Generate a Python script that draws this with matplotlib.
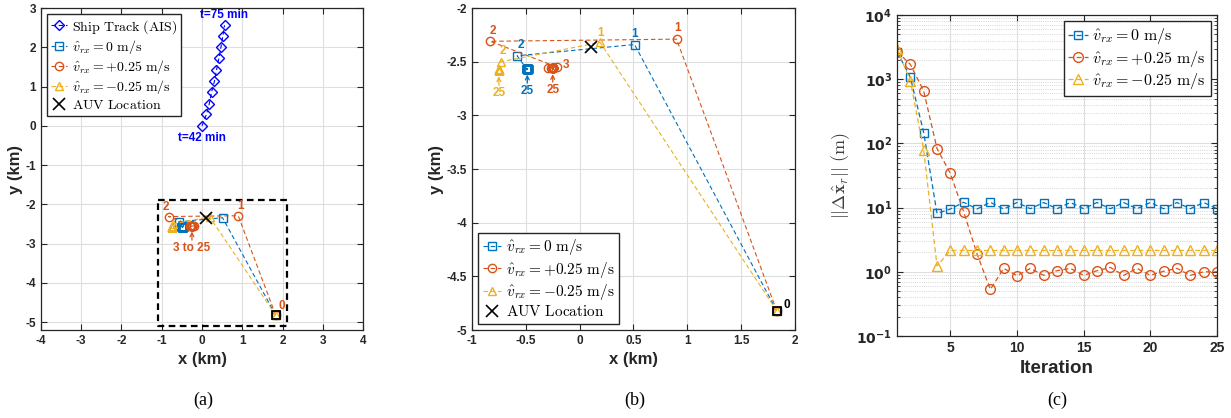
import numpy as np
import matplotlib
matplotlib.use("Agg")
import matplotlib.pyplot as plt
from matplotlib.ticker import FuncFormatter, LogLocator, NullFormatter

plt.rcParams["font.family"] = ["Liberation Sans", "DejaVu Sans"]
plt.rcParams["font.weight"] = "bold"
plt.rcParams["axes.labelweight"] = "bold"
plt.rcParams["mathtext.fontset"] = "cm"
plt.rcParams["axes.unicode_minus"] = False

# ------------------ DATOS ------------------
# trayectoria del barco (AIS), km
ship_x = [0.0, 0.11, 0.18, 0.24, 0.31, 0.36, 0.42, 0.47, 0.52, 0.56]
ship_y = [0.0, 0.29, 0.56, 0.87, 1.14, 1.42, 1.72, 2.0, 2.29, 2.56]

auv_x = 0.11
auv_y = -2.36

# estimaciones por iteracion (0..25), km
blue_x = [1.83, 0.51, -0.58, -0.49, -0.485, -0.488, -0.484, -0.488, -0.484, -0.488,
          -0.484, -0.488, -0.484, -0.488, -0.484, -0.488, -0.484, -0.488, -0.484,
          -0.488, -0.484, -0.488, -0.484, -0.488, -0.484, -0.487]
blue_y = [-4.82, -2.34, -2.445, -2.57, -2.566, -2.569, -2.564, -2.569, -2.564, -2.569,
          -2.564, -2.569, -2.564, -2.569, -2.564, -2.569, -2.564, -2.569, -2.564,
          -2.569, -2.564, -2.569, -2.564, -2.569, -2.564, -2.566]
orange_x = [1.83, 0.90, -0.83, -0.21, -0.29, -0.27, -0.255, -0.252, -0.250, -0.251,
            -0.250, -0.251, -0.250, -0.251, -0.250, -0.251, -0.250, -0.251, -0.250,
            -0.251, -0.250, -0.251, -0.250, -0.251, -0.250, -0.250]
orange_y = [-4.82, -2.29, -2.31, -2.55, -2.555, -2.56, -2.562, -2.563, -2.563, -2.562,
            -2.563, -2.562, -2.563, -2.562, -2.563, -2.562, -2.563, -2.562, -2.563,
            -2.562, -2.563, -2.562, -2.563, -2.562, -2.563, -2.563]
yellow_x = [1.83, 0.19, -0.73, -0.745, -0.75, -0.75, -0.75, -0.75, -0.75, -0.75,
            -0.75, -0.75, -0.75, -0.75, -0.75, -0.75, -0.75, -0.75, -0.75,
            -0.75, -0.75, -0.75, -0.75, -0.75, -0.75, -0.75]
yellow_y = [-4.82, -2.32, -2.50, -2.57, -2.575, -2.575, -2.575, -2.575, -2.575, -2.575,
            -2.575, -2.575, -2.575, -2.575, -2.575, -2.575, -2.575, -2.575, -2.575,
            -2.575, -2.575, -2.575, -2.575, -2.575, -2.575, -2.575]

# error por iteracion (1..25), m
iteraciones = list(range(1, 26))
err_blue = [2680, 1070, 147, 8.1, 9.5, 12.1, 9.5, 12.1, 9.5, 12.0, 9.6, 12.0, 9.6,
            12.0, 9.6, 12.0, 9.6, 12.0, 9.6, 12.0, 9.6, 12.0, 9.6, 12.0, 9.6]
err_orange = [2700, 1700, 655, 83, 34, 8.6, 1.9, 0.53, 1.13, 0.87, 1.13, 0.88, 1.04,
              1.13, 0.88, 1.04, 1.17, 0.88, 1.13, 0.88, 1.02, 1.13, 0.88, 1.0, 1.0]
err_yellow = [3000, 940, 79, 1.23, 2.15, 2.15, 2.15, 2.15, 2.15, 2.15, 2.15, 2.15, 2.15,
              2.15, 2.15, 2.15, 2.15, 2.15, 2.15, 2.15, 2.15, 2.15, 2.15, 2.15, 2.15]

etiquetas = [r"$\hat{v}_{rx} = 0\ \mathrm{m/s}$",
             r"$\hat{v}_{rx} = +0.25\ \mathrm{m/s}$",
             r"$\hat{v}_{rx} = -0.25\ \mathrm{m/s}$"]

AZUL = "#0072BD"
NARANJA = "#D95319"
AMARILLO = "#EDB120"
GRIS = "#262626"
DASH = (0, (4, 2.5))


def estilo(ax):
    ax.grid(True, color="#dedede", lw=0.8)
    ax.set_axisbelow(True)
    ax.tick_params(direction="in", top=True, right=True, labelsize=8.5,
                   colors=GRIS, length=4, width=0.8)
    for s in ax.spines.values():
        s.set_color(GRIS)
        s.set_linewidth(0.9)


def leyenda(ax, loc, fs):
    leg = ax.legend(loc=loc, fontsize=fs, fancybox=False, edgecolor=GRIS, framealpha=1,
                    handlelength=1.2, handletextpad=0.3, labelspacing=0.15,
                    borderpad=0.3, borderaxespad=0.4)
    leg.get_frame().set_linewidth(1.0)


def fmt(v, pos):
    return f"{v:g}"


fig = plt.figure(figsize=(12.31, 4.18), dpi=100)

# ------------------ (a) ------------------
ax1 = fig.add_axes([0.0333, 0.2105, 0.2616, 0.7703])
ax1.plot(ship_x, ship_y, ls=DASH, lw=0.8, color="#0000FF", marker="D", ms=5,
         mfc="none", mew=1, label=r"$\mathrm{Ship\ Track\ (AIS)}$")
for xs, ys, c, m, lab in [(blue_x, blue_y, AZUL, "s", etiquetas[0]),
                          (orange_x, orange_y, NARANJA, "o", etiquetas[1]),
                          (yellow_x, yellow_y, AMARILLO, "^", etiquetas[2])]:
    ax1.plot(xs, ys, ls=DASH, lw=0.8, color=c, marker=m, ms=6, mfc="none", mew=1, label=lab)
ax1.plot(auv_x, auv_y, "x", color="k", ms=8, mew=1.2, label=r"$\mathrm{AUV\ Location}$")
ax1.plot(blue_x[0], blue_y[0], "s", color="k", ms=6, mfc="none", mew=1.3)
ax1.plot([-1.1, 2.1, 2.1, -1.1, -1.1], [-1.9, -1.9, -5.1, -5.1, -1.9],
         color="k", ls=(0, (3, 2)), lw=1.6)

ax1.text(0.55, 2.82, "t=75 min", color="#0000FF", fontsize=8.5, ha="center", va="center")
ax1.text(0.01, -0.30, "t=42 min", color="#0000FF", fontsize=8.5, ha="center", va="center")
ax1.text(-0.9, -2.06, "2", color=NARANJA, fontsize=8.5, ha="center", va="center")
ax1.text(0.96, -2.04, "1", color=NARANJA, fontsize=8.5, ha="center", va="center")
ax1.text(1.98, -4.59, "0", color=NARANJA, fontsize=8.5, ha="center", va="center")
ax1.text(-0.26, -3.12, "3 to 25", color=NARANJA, fontsize=8.5, ha="center", va="center")
ax1.annotate("", xy=(-0.25, -2.62), xytext=(-0.25, -2.98),
             arrowprops=dict(arrowstyle="->", color=NARANJA, lw=0.9, mutation_scale=7))

ax1.set_xlim(-4, 4)
ax1.set_ylim(-5.2, 3)
ax1.set_xticks(range(-4, 5))
ax1.set_yticks(range(-5, 4))
estilo(ax1)
ax1.set_xlabel("x (km)", fontsize=12, color=GRIS)
ax1.set_ylabel("y (km)", fontsize=12, color=GRIS, labelpad=2)
leyenda(ax1, "upper left", 10)

# ------------------ (b) ------------------
ax2 = fig.add_axes([0.3834, 0.2105, 0.2624, 0.7703])
for xs, ys, c, m, lab in [(blue_x, blue_y, AZUL, "s", etiquetas[0]),
                          (orange_x, orange_y, NARANJA, "o", etiquetas[1]),
                          (yellow_x, yellow_y, AMARILLO, "^", etiquetas[2])]:
    ax2.plot(xs, ys, ls=DASH, lw=0.8, color=c, marker=m, ms=6, mfc="none", mew=1, label=lab)
ax2.plot(auv_x, auv_y, "x", color="k", ms=8, mew=1.2, label=r"$\mathrm{AUV\ Location}$")
ax2.plot(blue_x[0], blue_y[0], "s", color="k", ms=6, mfc="none", mew=1.3)

numeros = [(-0.81, -2.21, "2", NARANJA), (0.907, -2.19, "1", NARANJA),
           (-0.55, -2.34, "2", AZUL), (0.51, -2.24, "1", AZUL),
           (-0.71, -2.405, "2", AMARILLO), (0.19, -2.233, "1", AMARILLO),
           (-0.13, -2.535, "3", NARANJA), (1.92, -4.77, "0", "k")]
for x, y, t, c in numeros:
    ax2.text(x, y, t, color=c, fontsize=8.5, ha="center", va="center")

for x, y_txt, y_tip, c in [(-0.75, -2.79, -2.61, AMARILLO),
                           (-0.486, -2.77, -2.595, AZUL),
                           (-0.25, -2.76, -2.59, NARANJA)]:
    ax2.text(x, y_txt, "25", color=c, fontsize=8.5, ha="center", va="center")
    ax2.annotate("", xy=(x, y_tip), xytext=(x, y_txt + 0.045),
                 arrowprops=dict(arrowstyle="->", color=c, lw=0.9, mutation_scale=7))

ax2.set_xlim(-1, 2)
ax2.set_ylim(-5, -2)
ax2.set_xticks(np.arange(-1, 2.01, 0.5))
ax2.set_yticks(np.arange(-5, -1.99, 0.5))
ax2.xaxis.set_major_formatter(FuncFormatter(fmt))
ax2.yaxis.set_major_formatter(FuncFormatter(fmt))
estilo(ax2)
ax2.set_xlabel("x (km)", fontsize=12, color=GRIS)
ax2.set_ylabel("y (km)", fontsize=12, color=GRIS, labelpad=2)
leyenda(ax2, "lower left", 11)

# ------------------ (c) ------------------
ax3 = fig.add_axes([0.7287, 0.1962, 0.2599, 0.7679])
ax3.plot(iteraciones, err_blue, ls=DASH, lw=0.9, color=AZUL, marker="s", ms=6,
         mfc="none", mew=1, label=etiquetas[0])
ax3.plot(iteraciones, err_orange, ls=DASH, lw=0.9, color=NARANJA, marker="o", ms=7,
         mfc="none", mew=1, label=etiquetas[1])
ax3.plot(iteraciones, err_yellow, ls=DASH, lw=0.9, color=AMARILLO, marker="^", ms=7,
         mfc="none", mew=1, label=etiquetas[2])
ax3.set_yscale("log")
ax3.set_xlim(1, 25)
ax3.set_ylim(1e-1, 1e4)
ax3.set_xticks([5, 10, 15, 20, 25])
ax3.yaxis.set_minor_locator(LogLocator(base=10, subs=np.arange(2, 10), numticks=20))
ax3.yaxis.set_minor_formatter(NullFormatter())
potencias = [-1, 0, 1, 2, 3, 4]
ax3.set_yticks([10.0 ** p for p in potencias])
ax3.set_yticklabels([r"$\mathbf{10^{%d}}$" % p for p in potencias], math_fontfamily="dejavusans")
estilo(ax3)
ax3.tick_params(labelsize=10)
ax3.tick_params(which="minor", direction="in", right=True, length=2, color=GRIS)
ax3.grid(True, which="minor", ls=":", color="#c8c8c8", lw=0.6)
ax3.set_xlabel("Iteration", fontsize=13.5, color=GRIS)
ax3.set_ylabel(r"$||\Delta\hat{\mathbf{x}}_r||\ \mathrm{(m)}$", fontsize=13, color="#404040", labelpad=3)
leyenda(ax3, "upper right", 11.5)

# ------------------ captions ------------------
for x, t in [(0.165, "(a)"), (0.516, "(b)"), (0.859, "(c)")]:
    fig.text(x, 0.043, t, ha="center", va="center", fontsize=13,
             family="Liberation Serif", weight="normal")

fig.savefig("out.png", dpi=100)
